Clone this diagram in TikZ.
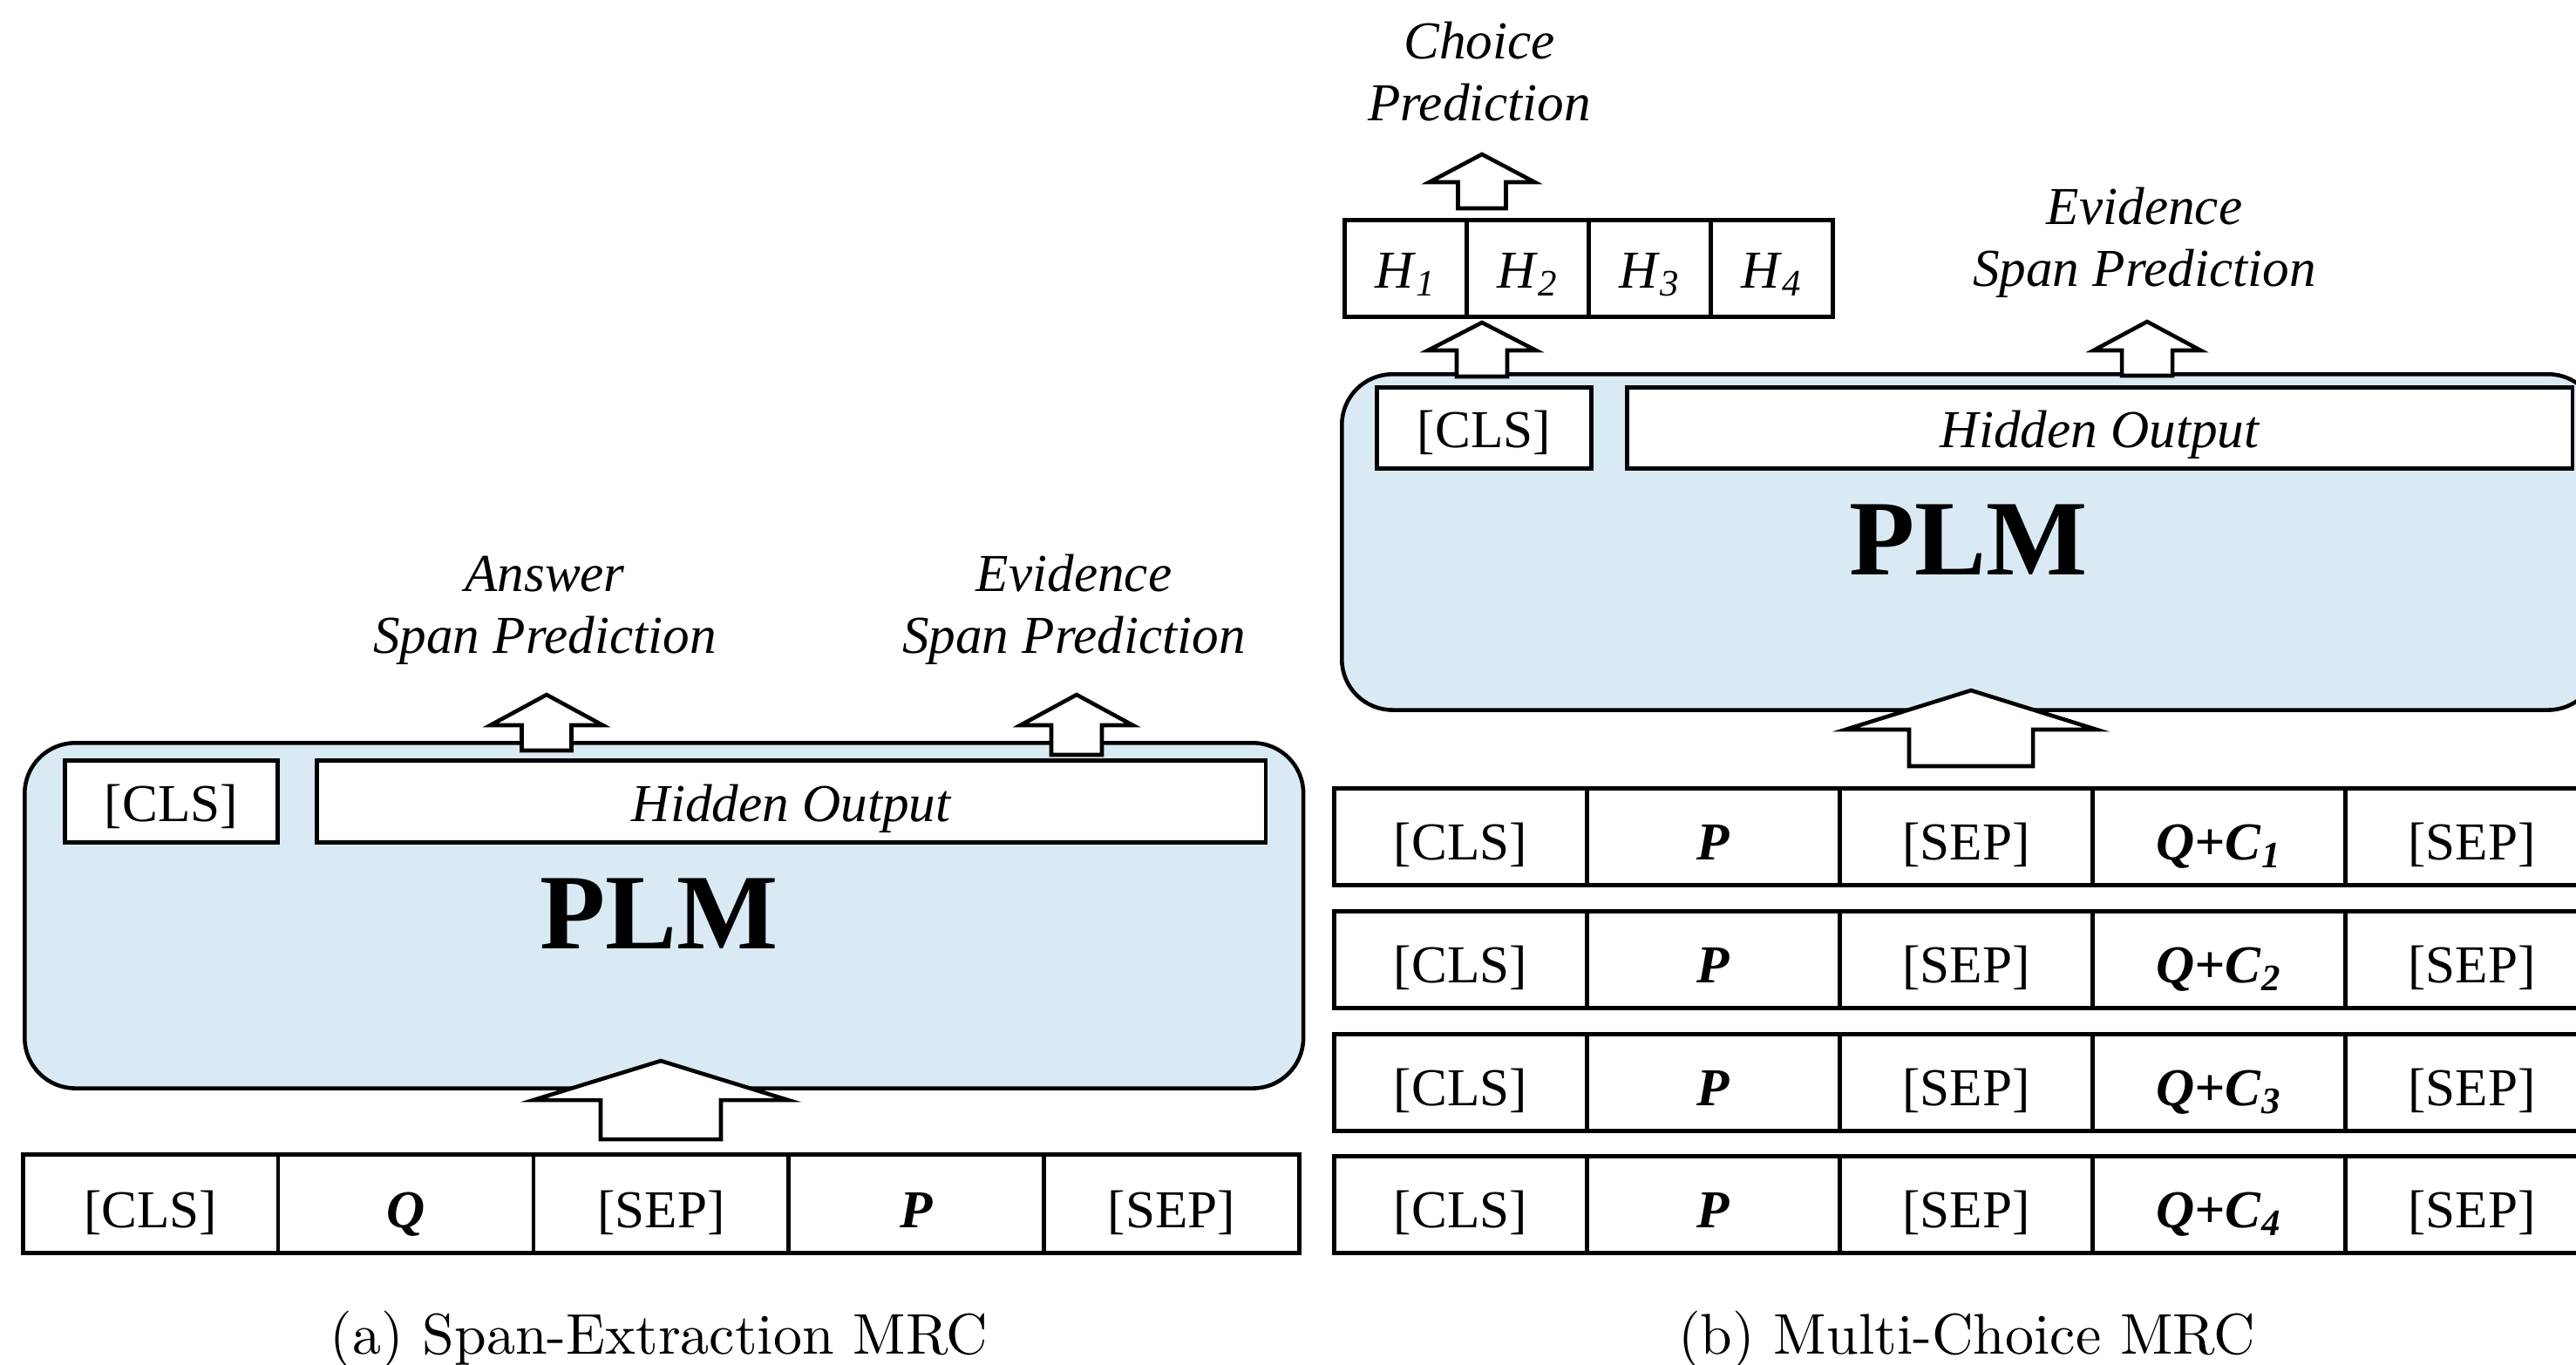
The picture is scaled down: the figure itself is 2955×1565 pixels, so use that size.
\documentclass[tikz,border=0pt]{standalone}
\usepackage{fontspec}
\usepackage{graphicx}
\newfontfamily\tms{Liberation Serif}
\definecolor{plmblue}{RGB}{218,234,245}
\tikzset{
  tm/.style={font=\tms\fontsize{17.4}{20.2}\selectfont},
  cellbox/.style={tm, draw, rectangle, inner sep=0pt, fill=white, anchor=north west},
  rowA/.style={cellbox, minimum width=2.928cm, minimum height=1.13cm, text height=0.60cm, text depth=0.04cm},
  rowB/.style={cellbox, minimum width=2.90cm, minimum height=1.11cm, text height=0.58cm, text depth=0.04cm},
  hcell/.style={cellbox, minimum width=1.40cm, minimum height=1.11cm, text height=0.50cm, text depth=0.04cm},
  innerbox/.style={cellbox, minimum height=0.94cm, text height=0.50cm, text depth=0.04cm},
  plmbox/.style={draw, rectangle, rounded corners=0.58cm, fill=plmblue, inner sep=0pt, anchor=north west},
  plmtext/.style={font=\tms\bfseries\fontsize{35}{40}\selectfont, inner sep=0pt, anchor=base},
  predlabel/.style={font=\tms\itshape\fontsize{17.4}{20.2}\selectfont, align=center, inner sep=0pt, anchor=south},
  caption/.style={inner sep=0pt, anchor=base},
  blockarrow/.style={draw, fill=white, line join=miter}
}
% #1 x, #2 tip y, #3 head base y, #4 bottom y, #5 head half width, #6 shaft half width
\newcommand\blockup[6]{%
  \draw[blockarrow] (#1,#2) -- ({#1+#5},#3) -- ({#1+#6},#3) -- ({#1+#6},#4)
    -- ({#1-#6},#4) -- ({#1-#6},#3) -- ({#1-#5},#3) -- cycle;}
\begin{document}
\begin{tikzpicture}[x=0.01cm,y=-0.01cm,line width=1.3pt]
\useasboundingbox (0,0) rectangle (2955,1565);
\fill[white] (0,0) rectangle (2955,1565);
\clip (0,0) rectangle (2955,1565);

% ---------------- (a) Span-Extraction MRC ----------------
\node[plmbox, minimum width=14.66cm, minimum height=3.96cm] (plmA) at (26,850) {};
\node[innerbox, minimum width=2.44cm] (clsA) at (72,870) {[CLS]};
\node[innerbox, minimum width=10.88cm] (hidA) at (361,870) {\itshape Hidden Output};
\node[plmtext] (plmAtxt) at (756,1088) {PLM};

\foreach \t [count=\i from 0] in {{[CLS]},{\textbf{\textit{Q}}},{[SEP]},{\textbf{\textit{P}}},{[SEP]}}
  \node[rowA] (a\i) at ({24+\i*292.8},1322) {\t};

\node[predlabel] (ansA) at (625,765) {Answer\\Span Prediction};
\node[predlabel] (evdA) at (1232,765) {Evidence\\Span Prediction};

\blockup{627}{797}{832}{861}{64.5}{28.5}
\blockup{1235}{797}{832}{866}{64.5}{29}
\blockup{758}{1217}{1262}{1307}{146}{69}

\node[caption] (capA) at (756,1553) {\scalebox{1.874}{(a) Span-Extraction MRC}};

% ---------------- (b) Multi-Choice MRC ----------------
\node[plmbox, minimum width=14.41cm, minimum height=3.85cm] (plmB) at (1537,427) {};
\node[innerbox, minimum width=2.46cm, minimum height=0.93cm] (clsB) at (1577,442) {[CLS]};
\node[innerbox, minimum width=10.84cm, minimum height=0.93cm] (hidB) at (1864,442) {\itshape Hidden Output};
\node[plmtext] (plmBtxt) at (2258,659) {PLM};

\foreach \k in {1,...,4}
  \node[hcell] (h\k) at ({1540+(\k-1)*140},250) {\textit{H}\textsubscript{\textit{\k}}};

\foreach \r [count=\j] in {902,1043,1184,1324} {
  \node[rowB] (b\j-1) at (1528,\r) {[CLS]};
  \node[rowB] (b\j-2) at (1818,\r) {\textbf{\textit{P}}};
  \node[rowB] (b\j-3) at (2108,\r) {[SEP]};
  \node[rowB] (b\j-4) at (2398,\r) {\textbf{\textit{Q+C}}\textsubscript{\textbf{\textit{\j}}}};
  \node[rowB] (b\j-5) at (2688,\r) {[SEP]};
}

\node[predlabel] (choB) at (1697,141) {Choice\\Prediction};
\node[predlabel] (evdB) at (2460,344) {Evidence\\Span Prediction};

\blockup{1700}{177}{209}{239}{60.5}{27.5}
\blockup{1700}{370}{402}{432}{62}{29}
\blockup{2463}{369}{402}{431}{61.5}{29}
\blockup{2261}{792}{837}{879}{144}{71}

\node[caption] (capB) at (2256,1553) {\scalebox{1.874}{(b) Multi-Choice MRC}};
\end{tikzpicture}
\end{document}
